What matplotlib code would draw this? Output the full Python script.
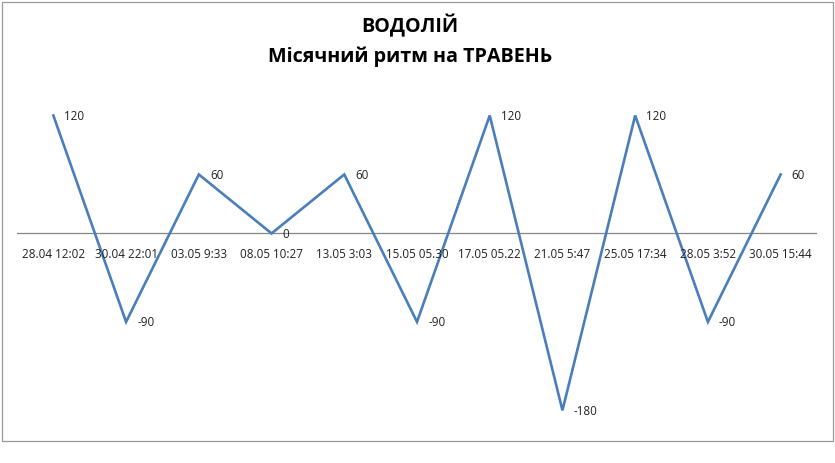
import matplotlib.pyplot as plt
from matplotlib.patches import Rectangle

# data
dates = ['28.04 12:02', '30.04 22:01', '03.05 9:33', '08.05 10:27', '13.05 3:03',
         '15.05 05.30', '17.05 05.22', '21.05 5:47', '25.05 17:34', '28.05 3:52',
         '30.05 15:44']
values = [120, -90, 60, 0, 60, -90, 120, -180, 120, -90, 60]

title_top = 'ВОДОЛІЙ'
title_bottom = 'Місячний ритм на ТРАВЕНЬ'

plt.rcParams['font.family'] = ['Open Sans', 'DejaVu Sans']

W, H = 835, 463
fig = plt.figure(figsize=(W / 100, H / 100), dpi=100)

# plot area in pixels: x 17..817, y 86..430 (from top)
ax = fig.add_axes([17 / W, 1 - 430 / H, 800 / W, 344 / H])
x = list(range(len(values)))
ax.plot(x, values, color='#4A7EBB', lw=1.9, solid_joinstyle='miter')
ax.set_xlim(-0.5, len(values) - 0.5)
ax.set_ylim(-200, 150)

for xi, v in zip(x, values):
    ax.annotate(str(v), (xi, v), xytext=(8, -0.5), textcoords='offset points',
                va='center', ha='left', fontsize=8.4, color='#222222')

# category axis at zero, labels just below it
ax.axhline(0, color='#868686', lw=0.9, zorder=0)
for xi, d in zip(x, dates):
    ax.text(xi, -21, d, ha='center', va='center', fontsize=8.4, color='#222222')

ax.set_xticks([])
ax.set_yticks([])
for s in ax.spines.values():
    s.set_visible(False)
ax.patch.set_alpha(0)

fig.text(410 / W, 1 - 26 / H, title_top, ha='center', va='center',
         fontsize=14.2, fontweight='bold')
fig.text(410 / W, 1 - 57 / H, title_bottom, ha='center', va='center',
         fontsize=14.2, fontweight='bold')

# chart border
fig.patches.append(Rectangle((1.5 / W, 1 - 440.5 / H), 831 / W, 439 / H,
                             transform=fig.transFigure, fill=False,
                             edgecolor='#9a9a9a', lw=0.9))

fig.savefig('out.png', dpi=100)
